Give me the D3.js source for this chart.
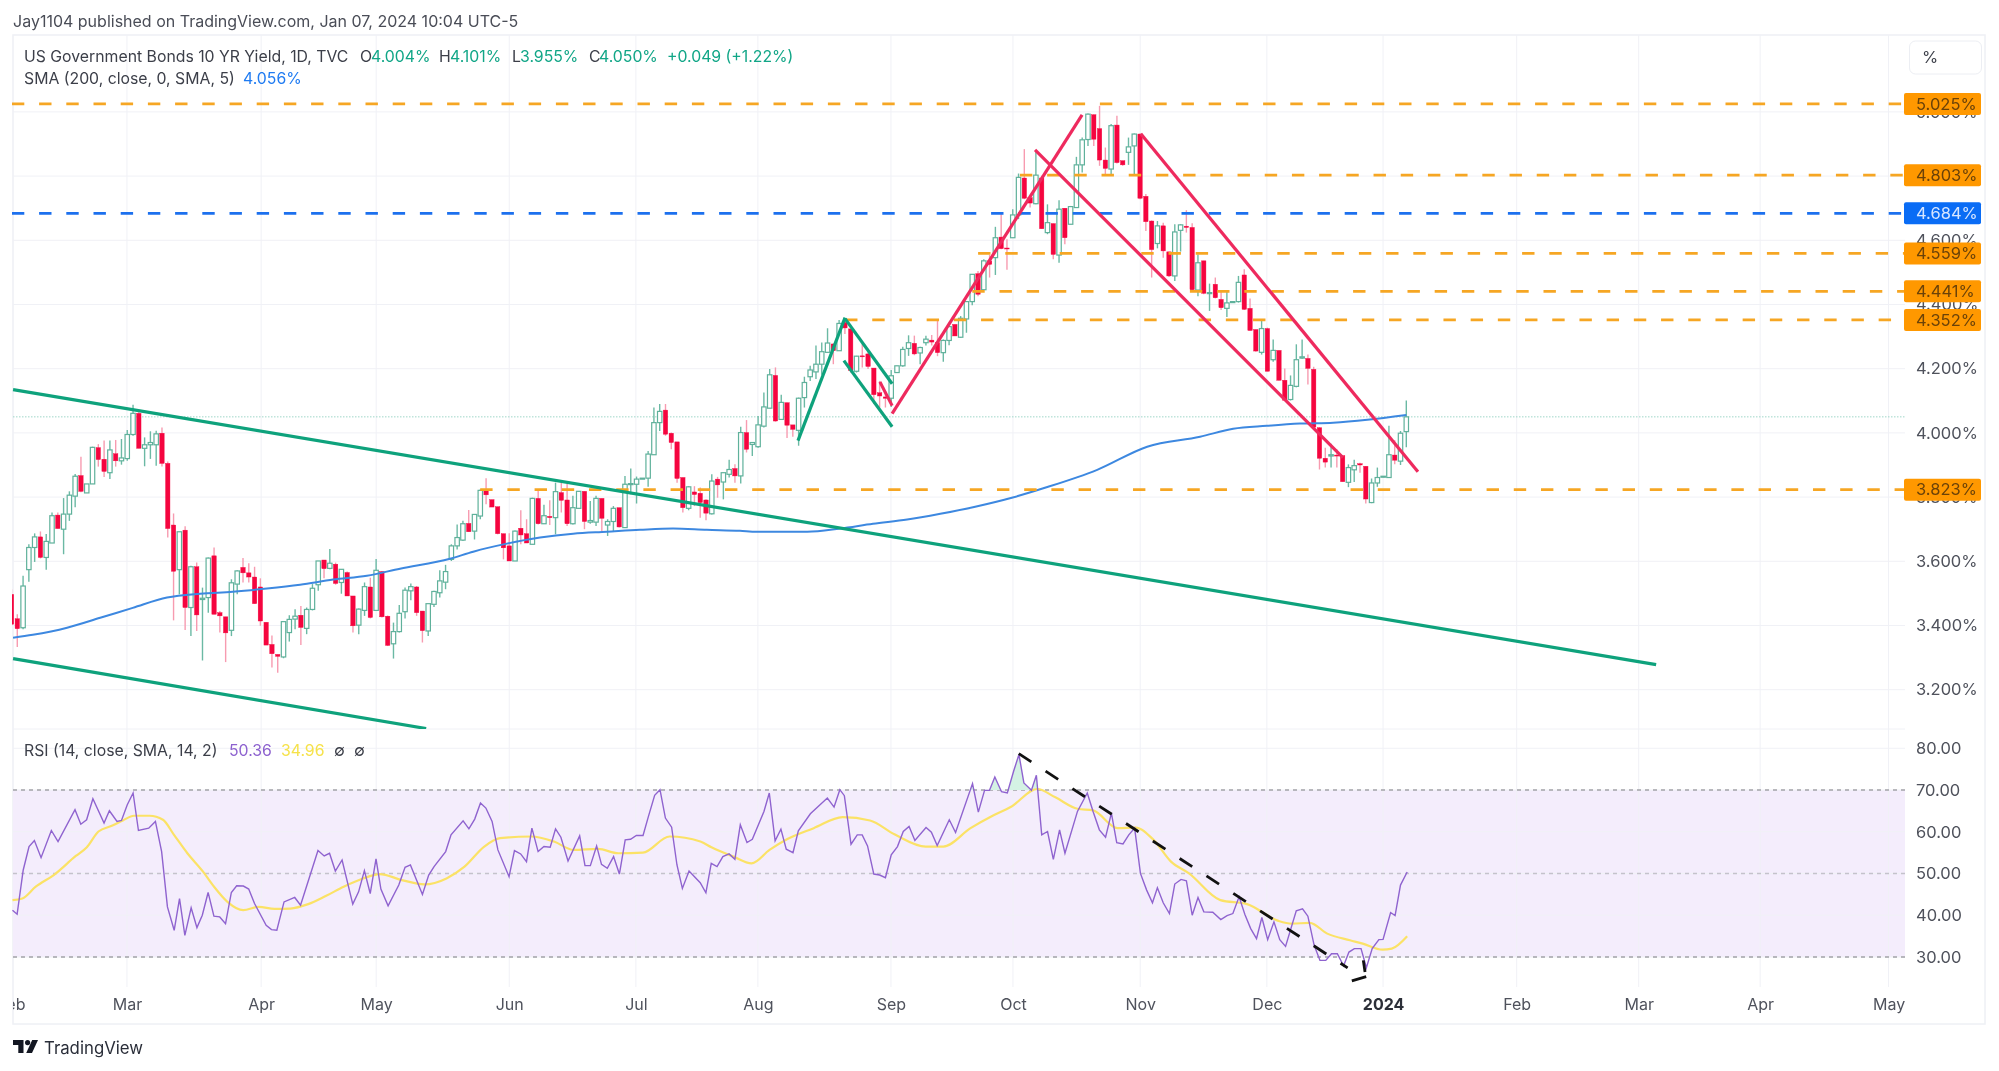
<!DOCTYPE html>
<html>
<head>
<meta charset="utf-8">
<script src="https://cdn.jsdelivr.net/npm/d3@7"></script>
<style>
  html, body { margin: 0; padding: 0; background: #fff; }
  text { font-family: Inter, "Noto Sans", sans-serif; }
  /* the reference is a soft screenshot */
  svg { filter: blur(0.4px); }
</style>
</head>
<body>
<svg id="chart" width="1999" height="1071"></svg>
<script>
// daily candles
const opens = [3.497,3.421,3.393,3.574,3.643,3.676,3.612,3.657,3.744,3.700,3.747,3.803,3.867,3.813,3.841,3.954,3.918,3.876,3.935,3.913,3.920,3.995,4.061,3.952,3.963,3.963,3.999,3.905,3.713,3.574,3.697,3.456,3.583,3.481,3.487,3.617,3.440,3.427,3.385,3.529,3.581,3.564,3.551,3.520,3.410,3.341,3.310,3.302,3.378,3.420,3.432,3.391,3.450,3.527,3.604,3.578,3.591,3.534,3.565,3.492,3.401,3.447,3.520,3.447,3.568,3.429,3.343,3.381,3.443,3.508,3.520,3.445,3.383,3.466,3.502,3.535,
  3.606,3.648,3.666,3.718,3.694,3.741,3.819,3.792,3.770,3.686,3.648,3.601,3.703,3.686,3.653,3.796,3.717,3.740,3.736,3.814,3.791,3.717,3.765,3.818,3.722,3.722,3.796,3.713,3.724,3.767,3.705,3.839,3.840,3.857,3.859,3.932,4.032,4.071,3.999,3.972,3.861,3.765,3.816,3.812,3.791,3.748,3.856,3.847,3.871,3.889,3.866,4.001,3.964,3.957,4.021,4.077,4.179,4.042,4.094,4.025,4.008,4.110,4.175,4.190,4.214,4.251,4.277,4.256,4.344,4.324,4.192,4.240,4.246,4.202,4.125,4.112,4.108,4.188,4.209,4.263,4.279,4.249,4.281,4.289,
  4.281,4.250,4.288,4.338,4.298,4.355,4.409,4.496,4.446,4.536,4.546,4.610,4.576,4.608,4.679,4.794,4.733,4.714,4.794,4.624,4.652,4.554,4.700,4.650,4.702,4.835,4.914,4.991,4.948,4.850,4.822,4.959,4.848,4.874,4.894,4.931,4.737,4.660,4.590,4.645,4.564,4.489,4.631,4.644,4.640,4.445,4.536,4.435,4.463,4.416,4.388,4.406,4.409,4.492,4.388,4.322,4.251,4.325,4.228,4.257,4.164,4.104,4.145,4.233,4.232,
  4.198,4.016,3.921,3.928,3.931,3.929,3.846,3.885,3.904,3.896,3.783,3.844,3.862,3.861,3.931,3.912,4.004];
const highs = [3.513,3.435,3.555,3.653,3.687,3.693,3.685,3.752,3.752,3.797,3.818,3.872,3.926,3.841,3.957,3.965,3.976,3.976,3.978,3.981,4.009,4.088,4.071,3.986,4.005,4.007,4.017,3.911,3.749,3.692,3.709,3.586,3.596,3.518,3.612,3.643,3.445,3.427,3.544,3.572,3.610,3.594,3.583,3.547,3.410,3.369,3.310,3.412,3.432,3.451,3.461,3.456,3.529,3.601,3.604,3.638,3.596,3.575,3.568,3.492,3.453,3.534,3.549,3.607,3.570,3.431,3.409,3.464,3.518,3.531,3.523,3.445,3.468,3.508,3.572,3.589,
  3.653,3.715,3.726,3.760,3.746,3.824,3.859,3.792,3.770,3.686,3.687,3.696,3.759,3.731,3.798,3.819,3.776,3.790,3.845,3.845,3.842,3.804,3.818,3.818,3.788,3.804,3.796,3.731,3.772,3.767,3.866,3.889,3.864,3.859,3.944,4.079,4.090,4.090,4.001,3.972,3.861,3.834,3.834,3.830,3.793,3.871,3.863,3.876,3.916,3.902,4.019,4.040,3.970,4.053,4.126,4.199,4.204,4.119,4.095,4.025,4.110,4.175,4.209,4.272,4.282,4.326,4.279,4.352,4.352,4.324,4.240,4.277,4.251,4.202,4.162,4.131,4.196,4.209,4.268,4.304,4.303,4.268,4.303,4.305,
  4.350,4.291,4.333,4.338,4.364,4.409,4.494,4.504,4.541,4.554,4.642,4.686,4.603,4.697,4.808,4.884,4.733,4.881,4.801,4.712,4.652,4.725,4.700,4.707,4.860,4.920,4.995,4.993,5.019,4.889,4.962,4.988,4.848,4.920,4.933,4.933,4.744,4.662,4.660,4.655,4.564,4.650,4.650,4.694,4.653,4.556,4.536,4.465,4.484,4.442,4.444,4.409,4.489,4.510,4.419,4.322,4.350,4.328,4.291,4.257,4.201,4.179,4.276,4.291,4.244,
  4.206,4.018,3.954,3.966,3.949,3.929,3.902,3.916,3.907,3.897,3.858,3.892,3.865,4.022,3.977,4.006,4.101];
const lows = [3.399,3.333,3.388,3.536,3.598,3.609,3.574,3.657,3.702,3.622,3.726,3.768,3.815,3.813,3.841,3.895,3.863,3.856,3.895,3.901,3.913,3.991,3.952,3.896,3.919,3.898,3.895,3.674,3.416,3.497,3.386,3.367,3.383,3.291,3.440,3.435,3.378,3.286,3.367,3.497,3.534,3.534,3.468,3.399,3.339,3.269,3.253,3.298,3.350,3.388,3.339,3.373,3.447,3.508,3.547,3.575,3.527,3.499,3.492,3.378,3.373,3.430,3.422,3.445,3.425,3.336,3.297,3.378,3.422,3.479,3.430,3.347,3.367,3.458,3.487,3.513,
  3.601,3.637,3.663,3.692,3.668,3.731,3.778,3.769,3.684,3.606,3.601,3.601,3.653,3.657,3.653,3.715,3.717,3.713,3.684,3.752,3.710,3.715,3.765,3.700,3.717,3.710,3.694,3.679,3.694,3.705,3.705,3.809,3.780,3.857,3.832,3.932,4.006,3.991,3.949,3.845,3.752,3.759,3.772,3.736,3.728,3.746,3.798,3.793,3.861,3.845,3.842,3.939,3.928,3.954,4.017,4.077,4.035,4.040,3.984,3.988,3.960,4.079,4.162,4.168,4.181,4.251,4.214,4.256,4.308,4.188,4.188,4.204,4.199,4.090,4.079,4.079,4.081,4.188,4.206,4.240,4.242,4.214,4.272,4.272,
  4.239,4.222,4.273,4.302,4.296,4.312,4.398,4.426,4.446,4.484,4.492,4.572,4.508,4.608,4.666,4.728,4.702,4.712,4.636,4.619,4.541,4.530,4.588,4.650,4.702,4.811,4.894,4.894,4.832,4.801,4.806,4.839,4.832,4.835,4.806,4.728,4.629,4.484,4.575,4.546,4.486,4.473,4.565,4.624,4.442,4.426,4.432,4.380,4.419,4.383,4.361,4.406,4.406,4.383,4.319,4.253,4.244,4.192,4.222,4.163,4.099,4.101,4.142,4.231,4.151,
  4.014,3.886,3.892,3.892,3.892,3.848,3.831,3.847,3.876,3.780,3.781,3.832,3.862,3.860,3.902,3.900,3.955];
const closes = [3.404,3.390,3.523,3.643,3.676,3.612,3.662,3.742,3.702,3.747,3.806,3.865,3.818,3.841,3.955,3.917,3.880,3.947,3.913,3.922,3.995,4.061,3.952,3.963,3.970,3.997,3.905,3.702,3.569,3.692,3.456,3.583,3.433,3.485,3.610,3.435,3.430,3.377,3.533,3.570,3.564,3.551,3.468,3.414,3.339,3.312,3.304,3.412,3.419,3.429,3.394,3.450,3.516,3.601,3.577,3.594,3.531,3.575,3.492,3.399,3.451,3.521,3.425,3.572,3.427,3.338,3.381,3.438,3.510,3.521,3.440,3.384,3.468,3.506,3.539,3.568,
  3.648,3.674,3.717,3.692,3.746,3.821,3.807,3.769,3.686,3.642,3.601,3.694,3.682,3.657,3.796,3.717,3.742,3.736,3.817,3.790,3.717,3.767,3.818,3.724,3.727,3.796,3.734,3.724,3.765,3.707,3.840,3.842,3.856,3.859,3.934,4.032,4.067,3.996,3.970,3.858,3.767,3.832,3.808,3.783,3.750,3.850,3.838,3.876,3.886,3.866,4.001,3.949,3.970,4.025,4.081,4.181,4.037,4.095,4.024,4.011,4.108,4.157,4.196,4.214,4.253,4.280,4.256,4.341,4.327,4.194,4.239,4.238,4.207,4.119,4.115,4.108,4.178,4.209,4.260,4.281,4.246,4.266,4.292,4.283,
  4.250,4.288,4.331,4.302,4.357,4.409,4.494,4.432,4.536,4.525,4.608,4.574,4.574,4.679,4.796,4.731,4.716,4.803,4.636,4.655,4.556,4.697,4.608,4.705,4.835,4.913,4.993,4.915,4.850,4.824,4.957,4.842,4.835,4.891,4.931,4.731,4.658,4.571,4.645,4.567,4.489,4.626,4.648,4.640,4.446,4.530,4.435,4.437,4.421,4.390,4.405,4.409,4.469,4.385,4.319,4.255,4.325,4.192,4.257,4.164,4.102,4.148,4.228,4.237,4.201,
  4.018,3.921,3.909,3.932,3.929,3.848,3.892,3.898,3.900,3.794,3.844,3.861,3.865,3.932,3.915,3.999,4.050];

// SMA 200, points along the line
const smaIdx = [0.2,3.6,9.5,15.2,20.8,26.7,32.4,38,43.9,49.6,55.3,61.1,66.8,75.4,79.4,85.2,90.9,96.6,102.4,108.1,113.8,119.6,125.3,128.2,136.9,142.5,148.2,154.1,159.8,165.8,172.1,177.8,186.8,195.4,204.5,210.2,216,221.7,227.4,233.3,240];
const smaVal = [3.362,3.371,3.393,3.424,3.455,3.487,3.499,3.505,3.515,3.527,3.543,3.555,3.577,3.608,3.630,3.655,3.674,3.686,3.692,3.698,3.702,3.698,3.695,3.692,3.692,3.702,3.717,3.730,3.748,3.770,3.798,3.829,3.885,3.957,3.988,4.013,4.022,4.029,4.032,4.041,4.056];

// RSI turning points
const rsiIdx = [0.1,0.9,1.95,2.95,3.87,5.02,6.79,7.94,10.86,11.86,12.86,13.94,15.86,16.78,18.09,18.86,19.86,20.86,21.78,23.55,24.7,25.77,26.77,27.93,28.85,29.77,30.85,31.85,32.77,33.77,34.77,35.77,36.77,37.77,38.69,39.84,40.76,41.76,43.76,44.68,45.6,46.84,48.68,49.68,52.68,53.75,54.67,55.67,56.83,58.67,59.67,60.67,61.67,62.67,63.51,64.75,66.59,67.67,68.59,70.66,71.74,72.66,74.66,75.58,77.66,78.66,79.66,80.65,81.58,82.65,83.65,85.57,86.5,87.57,88.57,89.5,90.57,91.57,92.65,93.57,94.49,95.72,97.72,98.64,99.56,100.64,101.48,102.48,103.56,104.56,105.56,106.48,107.48,108.63,109.56,110.63,111.55,112.48,113.55,114.47,115.4,116.55,118.47,119.45,120.37,121.37,122.37,123.44,124.44,125.37,126.52,127.44,129.44,130.36,131.36,132.36,133.28,134.44,135.36,137.43,140.35,141.51,142.5,143.28,144.43,145.5,146.35,147.27,148.35,149.35,150.35,151.35,152.42,153.42,154.42,155.42,157.34,158.26,159.26,161.34,162.42,165.34,166.34,167.41,168.26,169.18,170.33,171.33,172.41,173.33,174.18,175.48,176.33,177.25,178.25,179.25,180.32,181.25,183.4,185.09,186.09,187.17,188.24,189.24,190.16,191.24,192.24,193.24,194.24,195.31,196.31,197.16,198.16,199.23,200.15,201.23,202.15,203.15,204.15,205.15,206.69,208.07,209.15,210.15,211.22,212.22,213.22,214.22,215.14,216.14,217.22,218.22,219.22,221.06,222.14,223.06,224.14,225.14,226.14,227.13,228.13,229.21,230.13,231.06,232.21,233.13,234.13,235.28,236,237.3,238.07,239,240.15];
const rsiVal = [41.2,40.25,50.84,56.45,57.9,53.8,60.3,57.65,65.27,61.8,62.87,67.9,62.06,65.03,62.47,62.7,66.47,69.28,60.3,60.86,62.47,55.25,42,36.4,44,35.2,41.8,37.04,40,45.46,39.77,39.6,38,45.46,47.07,47,46.27,42.82,37.6,36.56,36.4,43.2,44.26,42.4,55.49,54.2,54.85,50.6,53.24,42.66,45.6,50.68,45.2,53.48,46.27,42.26,47.23,51.48,52.04,44.98,49.63,51.64,55.25,59.26,62.63,60.7,63.03,66.88,65.67,62.47,55.65,49.23,55.49,54.69,52.84,60.86,55.25,56.45,56.29,60.7,58.7,53,59,51.88,51.88,56.6,52.2,51.24,54.04,49.87,58.05,58.2,59.1,59.1,63.67,68.72,70.08,63.27,61.1,52.04,46.43,50.6,47.79,45.38,52.44,51.64,54.04,54.69,53.4,61.66,57.41,58.2,64.87,69.28,57.81,60.62,55.81,55,60.22,64.31,68.08,65.91,70.08,68.64,57.01,59.26,59.26,56.61,49.87,49.63,48.99,54.45,56.45,60.06,61.26,57.9,61.02,59.9,56.69,62.87,59.82,71.53,64.71,69.92,69.92,73.13,69.6,69.28,74.5,78.5,71.69,69.92,73.53,59.26,60.06,53.4,60.46,54.85,64.87,69.28,64.87,60.46,58.7,64.47,57.41,57.09,59.26,60.86,50.03,46.02,42.98,46.59,42.98,40.41,47.47,48.59,48.27,40.01,44.26,40.81,40.73,38.97,39.93,40.41,44.42,40.17,36.8,34.39,39.45,34.15,38.41,34.15,32.55,41.05,41.53,39.77,32.79,29.18,29.18,30.79,30.79,27.9,31.19,32,32,27.42,32,34.15,34.23,40.65,39.93,47.23,50.36];

// RSI moving average
const rsiMaIdx = [0.1,1.8,4.1,7.2,11,12.9,14.9,17.2,19.1,21,23.7,26,27.9,30.2,32.9,34.8,37.1,39.8,42.5,45.2,47.9,51,54.1,57.1,60.2,63.3,67.1,71,74.8,77.9,81.3,84,89.4,93.3,96.7,100.9,104.4,108.6,113.2,118.5,120.4,124.2,127.3,130.4,133.4,138,143,147.7,151.9,157.3,160.3,165,168.8,171.9,176.5,179.6,183.4,186.1,190.3,193.4,196.5,199.5,202.6,208,212.6,218,220.3,223.4,226.4,230.3,232.5,235.9,237.5,240.15];
const rsiMaVal = [43.62,44.02,46.83,49.63,54.2,56.29,60.06,61.42,62.71,63.83,63.83,62.87,59.26,54.85,50.44,46.83,43.22,41.21,42.01,41.53,41.61,42.66,44.66,46.83,48.67,49.87,48.43,47.39,48.83,51.64,56.45,58.46,58.86,57.65,55.65,55.89,54.85,55,58.86,57.65,56.29,54.04,52.44,55.65,58.2,60.86,63.5,62.7,59.4,56.45,56.45,60.86,63.83,65.91,70.24,68.24,65.51,65.11,60.86,61.02,58.05,52.84,50.03,43.62,42.66,38.65,38,38.16,35.6,34,33.2,31.75,32,34.96];

const priceTicks = [3.2,3.4,3.6,3.8,4.0,4.2,4.4,4.6,4.8,5.0];
const rsiTicks = [30,40,50,60,70,80];
const rsiBands = [70,50,30];

const monthLabels = ["Feb","Mar","Apr","May","Jun","Jul","Aug","Sep","Oct","Nov","Dec","2024","Feb","Mar","Apr","May"];
const monthIdx = [-0.15,19.8,42.9,62.7,85.6,107.4,128.4,151.3,172.3,194.2,216,236,259,280,300.9,323];

// horizontal levels drawn on the chart
const levelVals = [5.025,4.803,4.684,4.559,4.441,4.352,3.823];
const levelFrom = [0,173.5,0,166.3,165.3,143.4,80.6];
const levelBlue = [false,false,true,false,false,false,false];

// trend lines as [session, yield] pairs
const greenLines = [
  [[0.2,4.135],[283,3.278]],
  [[0.2,3.297],[71.3,3.079]],
  [[135.3,3.976],[143.4,4.359]],
  [[143.4,4.356],[151.5,4.153]],
  [[143.2,4.225],[151.5,4.019]]
];
const redLines = [
  [[149.4,4.159],[151.5,4.085]],
  [[151.5,4.060],[184.2,4.991]],
  [[176.1,4.882],[229.1,3.923]],
  [[194.3,4.932],[242,3.879]]
];
const rsiTrend = [
  [[173.3,78.7],[229.9,27.4]],
  [[232.6,29.2],[232.9,26.4]],
  [[233.1,25.3],[229.9,24]]
];

const svg = d3.select("#chart");

const paneLeft = 13, paneRight = 1905, paneTop = 35, priceBottom = 729, rsiBottom = 987, frameBottom = 1024, frameRight = 1985;

const x = d3.scaleLinear().domain([0,240]).range([11.9,1406.3]);
const xBar = d3.scaleLinear().domain([0,241]).range([11.5,1406.3]); // candle pitch is a touch tighter
const y = d3.scaleLinear().domain([4.2,3.2]).range([368.7,689.7]);
const yRsi = d3.scaleLinear().domain([70,30]).range([790,957]);

const defs = svg.append("defs");
defs.append("clipPath").attr("id","pricePane").append("rect")
  .attr("x",12).attr("y",paneTop).attr("width",paneRight-12).attr("height",priceBottom-paneTop);
defs.append("clipPath").attr("id","above70").append("rect")
  .attr("x",paneLeft).attr("y",730).attr("width",paneRight-paneLeft).attr("height",yRsi(70)-730);
defs.append("clipPath").attr("id","timeAxis").append("rect")
  .attr("x",paneLeft).attr("y",rsiBottom).attr("width",frameRight-paneLeft).attr("height",frameBottom-rsiBottom);

// title line
svg.append("text").attr("x",13).attr("y",27).attr("font-size",16).attr("fill","#4a4d57")
  .text("Jay1104 published on TradingView.com, Jan 07, 2024 10:04 UTC-5");

// frame
svg.append("rect").attr("x",paneLeft).attr("y",paneTop).attr("width",frameRight-paneLeft).attr("height",frameBottom-paneTop)
  .attr("fill","#fff").attr("stroke","#eef0f5").attr("stroke-width",1.5);

// RSI background goes under the grid
svg.append("rect").attr("x",paneLeft).attr("width",paneRight-paneLeft)
  .attr("y",yRsi(70)).attr("height",yRsi(30)-yRsi(70)).attr("fill","#f4edfc");

// grid
const grid = svg.append("g").attr("stroke","#f0f1f6").attr("stroke-width",1);
grid.selectAll(".v").data(monthIdx.slice(1)).join("line").attr("class","v")
  .attr("x1",d=>x(d)).attr("x2",d=>x(d)).attr("y1",paneTop).attr("y2",rsiBottom);
grid.selectAll(".h").data(priceTicks).join("line").attr("class","h")
  .attr("x1",paneLeft).attr("x2",paneRight).attr("y1",d=>y(d)).attr("y2",d=>y(d));
grid.selectAll(".r").data(rsiTicks).join("line").attr("class","r")
  .attr("x1",paneLeft).attr("x2",paneRight).attr("y1",d=>yRsi(d)).attr("y2",d=>yRsi(d));
grid.append("line").attr("x1",paneLeft).attr("x2",paneRight).attr("y1",priceBottom).attr("y2",priceBottom);

// price axis, levels sit on top of it later
const priceAxis = d3.axisRight(y).tickValues(priceTicks).tickSize(0).tickPadding(0)
  .tickFormat(d=>d.toFixed(3)+"%");
const gPrice = svg.append("g").attr("transform","translate(1916,0)").call(priceAxis);
gPrice.select(".domain").remove();
gPrice.selectAll("text").attr("font-size",16.5).attr("fill","#4f525c").style("font-family","Inter");

const rsiAxis = d3.axisRight(yRsi).tickValues(rsiTicks).tickSize(0).tickPadding(0)
  .tickFormat(d=>d.toFixed(2));
const gRsiAxis = svg.append("g").attr("transform","translate(1916,0)").call(rsiAxis);
gRsiAxis.select(".domain").remove();
gRsiAxis.selectAll("text").attr("font-size",16.5).attr("fill","#4f525c").style("font-family","Inter");

const timeAxis = d3.axisBottom(x).tickValues(monthIdx).tickSize(0).tickPadding(0)
  .tickFormat((d,i)=>monthLabels[i]);
// clip on the outer group so the clip rect stays in page coordinates ("eb" is cut at the frame)
const gTime = svg.append("g").attr("clip-path","url(#timeAxis)")
  .append("g").attr("transform","translate(0,999)").call(timeAxis);
gTime.select(".domain").remove();
gTime.selectAll("text").attr("font-size",16).style("font-family","Inter")
  .attr("font-weight",(d,i)=>monthLabels[i]==="2024"?700:400)
  .attr("fill",(d,i)=>monthLabels[i]==="2024"?"#2c2f38":"#4f525c");

// price pane
const pane = svg.append("g").attr("clip-path","url(#pricePane)");

// last close marker
pane.append("line").attr("x1",paneLeft).attr("x2",paneRight).attr("y1",y(closes[closes.length-1])).attr("y2",y(closes[closes.length-1]))
  .attr("stroke","#9fd6c8").attr("stroke-width",1).attr("stroke-dasharray","1.5 1.5");

// candles
const bars = opens.map((o,i)=>({i,o,h:highs[i],l:lows[i],c:closes[i],up:closes[i]>=o}));
const candleW = 4.4;
const candles = pane.append("g");
candles.selectAll("line").data(bars).join("line")
  .attr("x1",d=>xBar(d.i)).attr("x2",d=>xBar(d.i))
  .attr("y1",d=>y(d.h)).attr("y2",d=>y(d.l))
  .attr("stroke",d=>d.up?"#6bb9a4":"#f79bb0").attr("stroke-width",1.4);
candles.selectAll("rect").data(bars).join("rect")
  .attr("x",d=>xBar(d.i)-candleW/2).attr("width",candleW)
  .attr("y",d=>y(Math.max(d.o,d.c)))
  .attr("height",d=>Math.max(1,Math.abs(y(d.o)-y(d.c))))
  .attr("fill",d=>d.up?"#fff":"#f5053f")
  .attr("stroke",d=>d.up?"#5fb19b":"#f5053f").attr("stroke-width",d=>d.up?1.2:0.4);

// SMA
const smaLine = d3.line().x(d=>x(d[0])).y(d=>y(d[1])).curve(d3.curveMonotoneX);
pane.append("path").datum(smaIdx.map((d,i)=>[d,smaVal[i]]))
  .attr("d",smaLine).attr("fill","none").attr("stroke","#3d88e0").attr("stroke-width",2);

// levels
pane.selectAll(".level").data(levelVals).join("line").attr("class","level")
  .attr("x1",(d,i)=>x(levelFrom[i])).attr("x2",paneRight)
  .attr("y1",d=>y(d)).attr("y2",d=>y(d))
  .attr("stroke",(d,i)=>levelBlue[i]?"#1c70ee":"#f6a623")
  .attr("stroke-width",2.8).attr("stroke-dasharray","12.4 14.8");

// trend lines
const straight = d3.line().x(d=>x(d[0])).y(d=>y(d[1]));
pane.selectAll(".green").data(greenLines).join("path").attr("class","green")
  .attr("d",straight).attr("fill","none").attr("stroke","#0ea27c").attr("stroke-width",3.2);
pane.selectAll(".red").data(redLines).join("path").attr("class","red")
  .attr("d",straight).attr("fill","none").attr("stroke","#ee2a5e").attr("stroke-width",3.2);

// level labels on the scale
const tags = svg.append("g");
tags.selectAll("rect").data(levelVals).join("rect")
  .attr("x",1904).attr("width",77).attr("height",22).attr("rx",2)
  .attr("y",d=>y(d)-11)
  .attr("fill",(d,i)=>levelBlue[i]?"#0a6cf5":"#ff9800");
tags.selectAll("text").data(levelVals).join("text")
  .attr("x",1916).attr("y",d=>y(d)).attr("dy","0.35em")
  .attr("font-size",16.5)
  .attr("fill",(d,i)=>levelBlue[i]?"#d8e6ff":"#6b4208")
  .text(d=>d.toFixed(3)+"%");

// % button
svg.append("rect").attr("x",1909.5).attr("y",41).attr("width",72).attr("height",33).attr("rx",6)
  .attr("fill","#fff").attr("stroke","#eceef3");
svg.append("text").attr("x",1922).attr("y",63).attr("font-size",16.5).attr("fill","#3c3f49").text("%");

// legend
const legendDark = "#3c3f49", legendGreen = "#11a687", legendBlue = "#1f7bf2";
const legend = [
  ["US Government Bonds 10 YR Yield, 1D, TVC",24,legendDark],
  ["O",360,legendDark],["4.004%",371,legendGreen],
  ["H",439,legendDark],["4.101%",450,legendGreen],
  ["L",512,legendDark],["3.955%",520,legendGreen],
  ["C",589,legendDark],["4.050%",599,legendGreen],
  ["+0.049 (+1.22%)",667,legendGreen]
];
svg.append("g").selectAll("text").data(legend).join("text")
  .attr("x",d=>d[1]).attr("y",62).attr("font-size",15.8).attr("fill",d=>d[2]).text(d=>d[0]);
svg.append("text").attr("x",24).attr("y",84).attr("font-size",15.8).attr("fill",legendDark).text("SMA (200, close, 0, SMA, 5)");
svg.append("text").attr("x",243).attr("y",84).attr("font-size",15.8).attr("fill",legendBlue).text("4.056%");

// RSI pane
svg.selectAll(".rsiBand").data(rsiBands).join("line").attr("class","rsiBand")
  .attr("x1",paneLeft).attr("x2",paneRight).attr("y1",d=>yRsi(d)).attr("y2",d=>yRsi(d))
  .attr("stroke",d=>d===50?"#c4c2cb":"#a3a3a8").attr("stroke-width",1.5).attr("stroke-dasharray","4 4");

const rsiPts = rsiIdx.map((d,i)=>[d,rsiVal[i]]);
svg.append("path").datum(rsiPts).attr("clip-path","url(#above70)")
  .attr("d",d3.area().x(d=>x(d[0])).y0(yRsi(70)).y1(d=>yRsi(d[1])))
  .attr("fill","#d4f2e4");
svg.append("path").datum(rsiMaIdx.map((d,i)=>[d,rsiMaVal[i]]))
  .attr("d",d3.line().x(d=>x(d[0])).y(d=>yRsi(d[1])).curve(d3.curveMonotoneX))
  .attr("fill","none").attr("stroke","#fbe266").attr("stroke-width",2.2);
svg.append("path").datum(rsiPts)
  .attr("d",d3.line().x(d=>x(d[0])).y(d=>yRsi(d[1])))
  .attr("fill","none").attr("stroke","#8f63cf").attr("stroke-width",1.4);
svg.selectAll(".rsiTrend").data(rsiTrend).join("path").attr("class","rsiTrend")
  .attr("d",d3.line().x(d=>x(d[0])).y(d=>yRsi(d[1])))
  .attr("fill","none").attr("stroke","#111").attr("stroke-width",2.8).attr("stroke-dasharray","15 17");

// RSI legend
const rsiLegend = [
  ["RSI (14, close, SMA, 14, 2)",24,legendDark],
  ["50.36",229,"#8d62cf"],["34.96",281,"#f6e24a"],
  ["∅",334,legendDark],["∅",354,legendDark]
];
svg.append("g").selectAll("text").data(rsiLegend).join("text")
  .attr("x",d=>d[1]).attr("y",756).attr("font-size",15.8).attr("fill",d=>d[2]).text(d=>d[0]);

// logo
const logo = svg.append("g").attr("transform","translate(13,1040)").attr("fill","#131722");
logo.append("path").attr("d","M0 0H10.5V13H5.3V5H0Z");
logo.append("circle").attr("cx",14.6).attr("cy",2.6).attr("r",2.6);
logo.append("path").attr("d","M25 0L19 13H13.2L19.2 0Z");
svg.append("text").attr("x",44).attr("y",1054).attr("font-size",16.8).attr("fill","#2a2e39").text("TradingView");
</script>
</body>
</html>
